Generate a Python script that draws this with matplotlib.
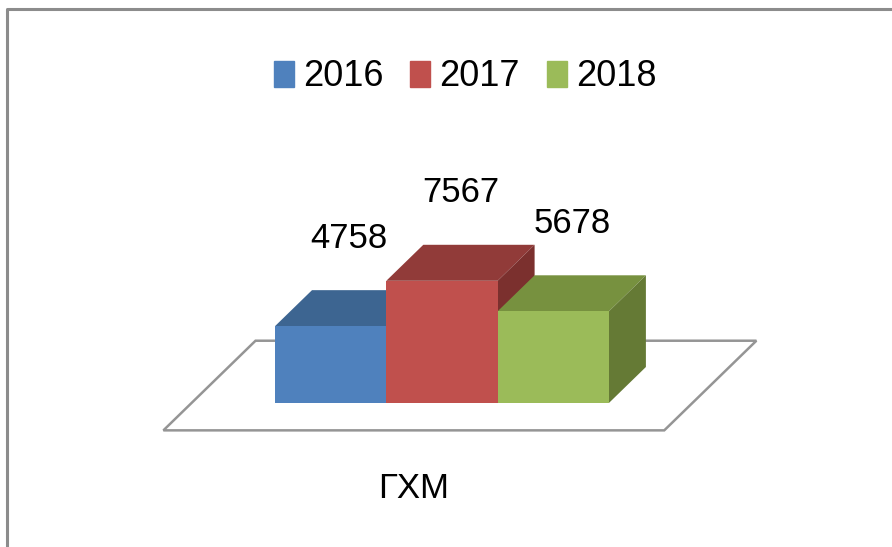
import matplotlib.pyplot as plt
from matplotlib.patches import Polygon, Patch
from matplotlib.lines import Line2D

# data
years = ['2016', '2017', '2018']
values = [4758, 7567, 5678]
category = 'ГХМ'

front_col = ['#4F81BD', '#C0504D', '#9BBB59']
top_col = ['#3D6591', '#913B39', '#77913F']
side_col = ['#375A84', '#7B302E', '#657A35']

plt.rcParams['font.family'] = ['Liberation Sans', 'DejaVu Sans']

W, H = 892, 547
fig = plt.figure(figsize=(W / 100, H / 100), dpi=100)
ax = fig.add_axes([0, 0, 1, 1])
ax.axis('off')

# pixel mapping of the fake 3d plot
px_x = 111.3      # px per bar width
px_y = 0.01615    # px per value unit
x0_px = 275       # left edge of first bar
base_px = 403     # bar base row (from top)
ax.set_xlim(-0.5 - x0_px / px_x, -0.5 + (W - x0_px) / px_x)
ax.set_ylim(-(H - base_px) / px_y, base_px / px_y)

# one bar depth in data units
dx = 37 / px_x
dy = 36 / px_y

# floor
f_front, f_back = -0.76, 1.73
xl, xr = -1.25, len(values) - 1 + 1.25
floor = [(xl + f_front * dx, f_front * dy), (xr + f_front * dx, f_front * dy),
         (xr + f_back * dx, f_back * dy), (xl + f_back * dx, f_back * dy)]
ax.add_patch(Polygon(floor, closed=True, facecolor='white', edgecolor='#959595',
                     lw=1.8, zorder=1))

# bars
for i, v in enumerate(values):
    z = 2 + 3 * i
    top = [(i - 0.5, v), (i + 0.5, v), (i + 0.5 + dx, v + dy), (i - 0.5 + dx, v + dy)]
    side = [(i + 0.5, 0), (i + 0.5 + dx, dy), (i + 0.5 + dx, v + dy), (i + 0.5, v)]
    ax.add_patch(Polygon(top, closed=True, facecolor=top_col[i], edgecolor='none', zorder=z))
    ax.add_patch(Polygon(side, closed=True, facecolor=side_col[i], edgecolor='none', zorder=z))
    ax.bar(i, v, width=1, color=front_col[i], zorder=z + 1)
    ax.text(i + dx / 2, v + dy + 52 / px_y, str(v), ha='center', va='center',
            fontsize=25, zorder=20)

# category label
ax.text((xl + xr) / 2 + f_front * dx, -86 / px_y, category, ha='center', va='center',
        fontsize=25)

# legend
handles = [Patch(color=c, label=y) for c, y in zip(front_col, years)]
fig.legend(handles=handles, loc='center', bbox_to_anchor=(465 / W, 1 - 77 / H), ncol=3,
           frameon=False, fontsize=26, handlelength=0.55, handleheight=0.75,
           handletextpad=0.25, columnspacing=0.75)

# chart border (cut off on right and bottom)
fig.add_artist(Line2D([7 / W, 7 / W, 1], [0, 1 - 9 / H, 1 - 9 / H],
                      transform=fig.transFigure, color='#8c8c8c', lw=2.2))

fig.savefig('out.png', dpi=100)
